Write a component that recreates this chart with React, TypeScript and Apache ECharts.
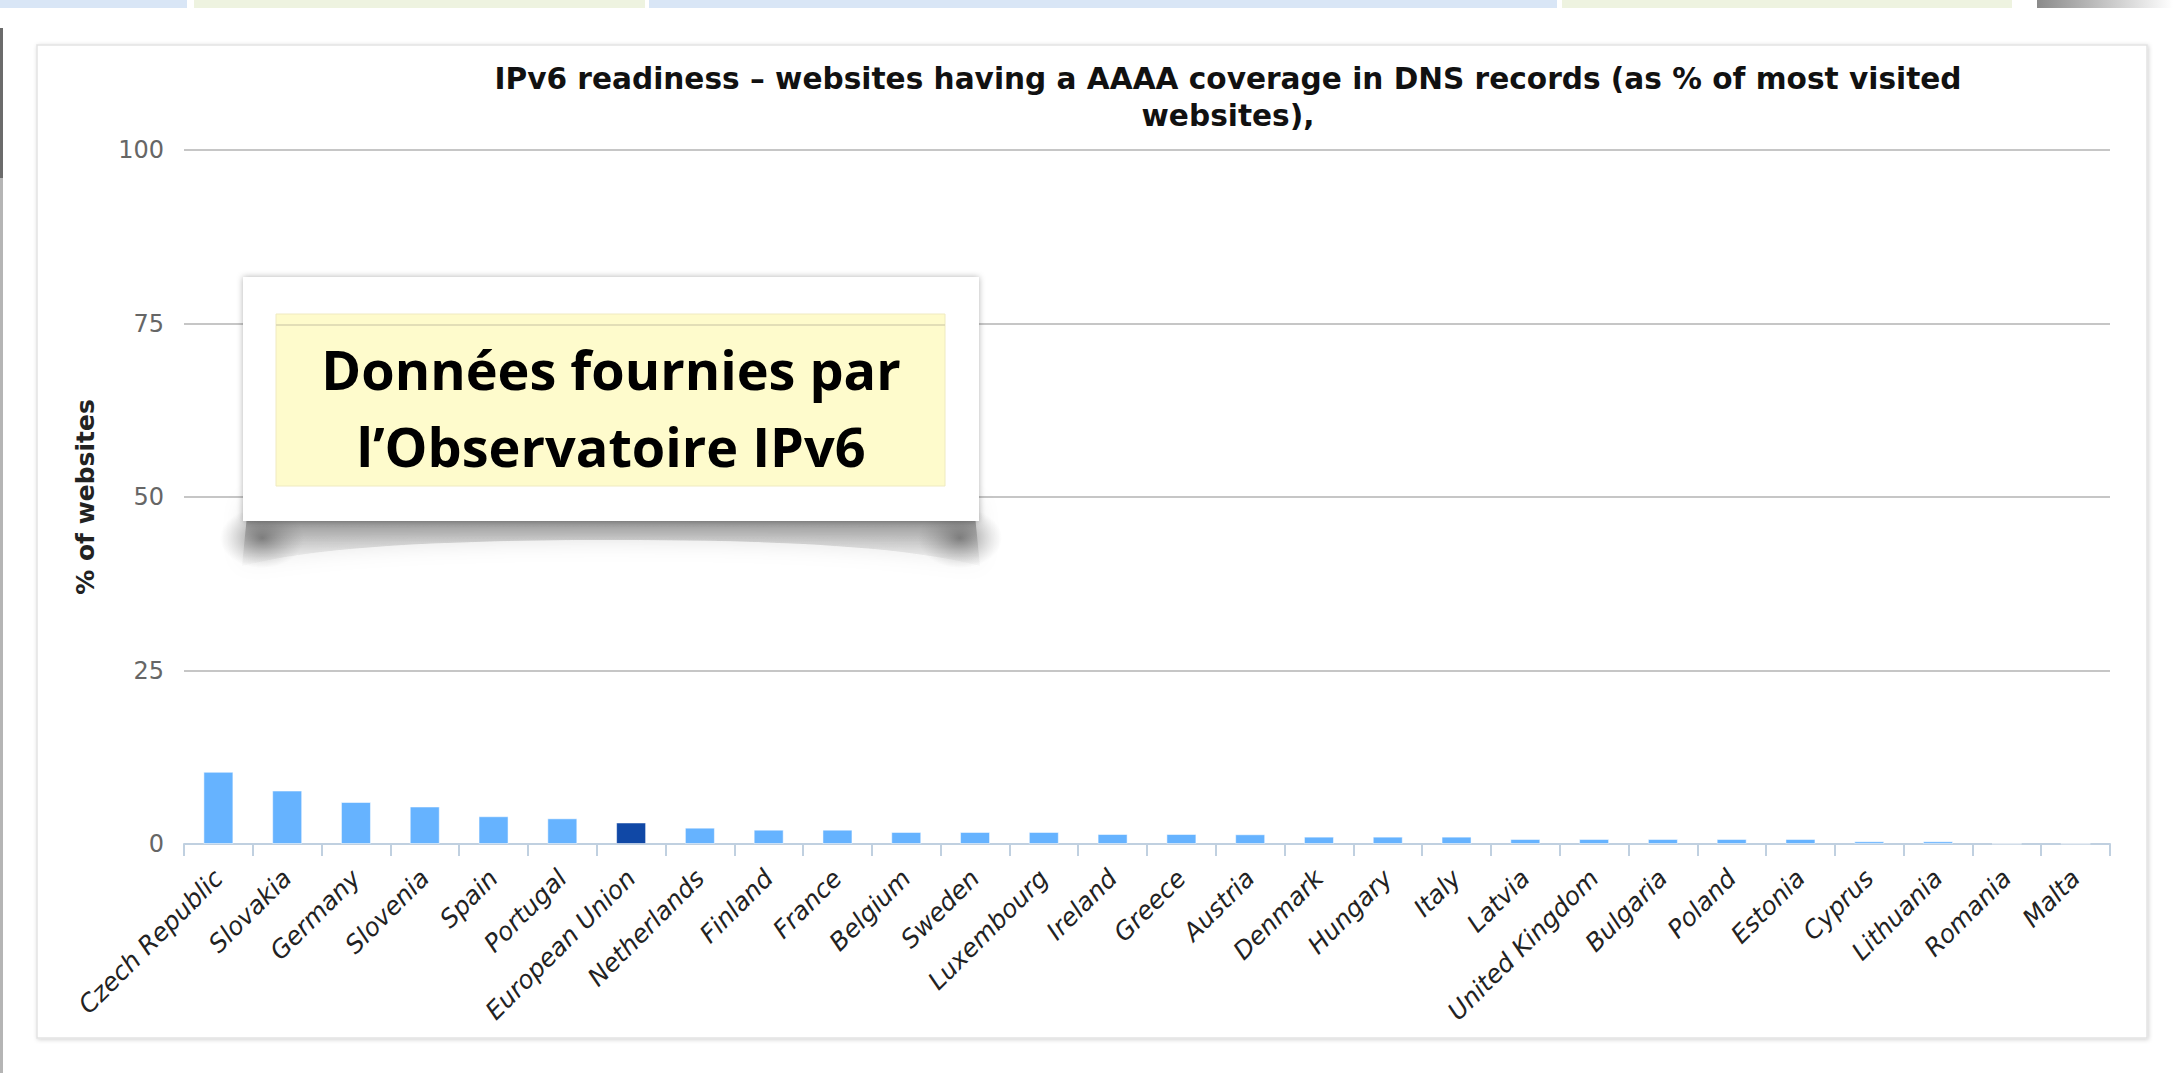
import React, { useEffect, useRef } from "react";
import * as echarts from "echarts";

const categories = [
  "Czech Republic", "Slovakia", "Germany", "Slovenia", "Spain", "Portugal",
  "European Union", "Netherlands", "Finland", "France", "Belgium", "Sweden",
  "Luxembourg", "Ireland", "Greece", "Austria", "Denmark", "Hungary", "Italy",
  "Latvia", "United Kingdom", "Bulgaria", "Poland", "Estonia", "Cyprus",
  "Lithuania", "Romania", "Malta",
];

const values = [
  10.4, 7.7, 6.05, 5.4, 4.0, 3.7,
  3.1, 2.35, 2.06, 2.06, 1.73, 1.73,
  1.73, 1.44, 1.44, 1.4, 1.06, 1.06, 1.06,
  0.72, 0.72, 0.72, 0.72, 0.72, 0.39,
  0.39, 0.05, 0.05,
];

const highlighted = ["European Union"];

const yTicks = { min: 0, max: 100, interval: 25 };

const titleLines = [
  "IPv6 readiness – websites having a AAAA coverage in DNS records (as % of most visited",
  "websites),",
];
const yAxisTitle = "% of websites";
const calloutLines = ["Données fournies par", "l’Observatoire IPv6"];

const CURL_D =
  "M 248 505 L 974 505 L 980 566 C 900 545 760 540 611 540 C 462 540 322 545 242 566 Z";

export default function App() {
  const ref = useRef<HTMLDivElement>(null);

  useEffect(() => {
    document.body.style.margin = "0";
    document.body.style.overflow = "hidden";
    const el = ref.current;
    if (!el) return;
    echarts.graphic.registerShape("curl", echarts.graphic.extendPath(CURL_D, {}));
    const chart = echarts.init(el, null, { renderer: "svg" });

    const font = "DejaVu Sans";

    const cornerBlob = (cx: number) => ({
      type: "ellipse",
      z: 90,
      shape: { cx, cy: 538, rx: 42, ry: 30 },
      style: {
        fill: new echarts.graphic.RadialGradient(0.5, 0.5, 0.5, [
          { offset: 0, color: "rgba(70,70,70,0.55)" },
          { offset: 1, color: "rgba(120,120,120,0)" },
        ]),
      },
    });

    const option: any = {
      animation: false,
      backgroundColor: "#ffffff",
      grid: { left: 184, right: 63, top: 150, bottom: 229, containLabel: false },
      xAxis: {
        type: "category",
        data: categories,
        boundaryGap: true,
        axisLine: { show: true, lineStyle: { color: "#c0d0e0", width: 2 } },
        axisTick: {
          show: true,
          alignWithLabel: false,
          interval: 0,
          length: 12,
          lineStyle: { color: "#c0d0e0", width: 2 },
        },
        axisLabel: {
          interval: 0,
          rotate: 45,
          margin: 30,
          color: "#222",
          fontSize: 25,
          fontStyle: "italic",
          fontFamily: font,
        },
        splitLine: { show: false },
      },
      yAxis: {
        type: "value",
        min: yTicks.min,
        max: yTicks.max,
        interval: yTicks.interval,
        name: yAxisTitle,
        nameLocation: "middle",
        nameRotate: 90,
        nameGap: 86,
        nameTextStyle: { color: "#222", fontSize: 25, fontWeight: "bold", fontFamily: font },
        axisLine: { show: false },
        axisTick: { show: false },
        axisLabel: { margin: 20, color: "#666", fontSize: 24, fontFamily: font },
        splitLine: { show: true, lineStyle: { color: "#c6c6c6", width: 2 } },
      },
      series: [
        {
          type: "bar",
          barWidth: 30,
          data: values.map((v, i) => ({
            value: v,
            itemStyle: {
              color: highlighted.includes(categories[i]) ? "#1048a6" : "#66b3ff",
            },
          })),
          itemStyle: { borderColor: "rgba(255,255,255,0.5)", borderWidth: 1 },
          z: 3,
        },
      ],
      graphic: [
        // top strip
        { type: "rect", z: -20, shape: { x: 0, y: 0, width: 187, height: 8 }, style: { fill: "#d9e6f6" } },
        { type: "rect", z: -20, shape: { x: 194, y: 0, width: 451, height: 8 }, style: { fill: "#eef3e0" } },
        { type: "rect", z: -20, shape: { x: 649, y: 0, width: 908, height: 8 }, style: { fill: "#d9e6f6" } },
        { type: "rect", z: -20, shape: { x: 1562, y: 0, width: 450, height: 8 }, style: { fill: "#eef3e0" } },
        {
          type: "rect",
          z: -20,
          shape: { x: 2037, y: 0, width: 136, height: 8 },
          style: {
            fill: new echarts.graphic.LinearGradient(0, 0, 1, 0, [
              { offset: 0, color: "#8a8a8a" },
              { offset: 1, color: "#ffffff" },
            ]),
          },
        },
        // left page edge
        { type: "rect", z: -20, shape: { x: 0, y: 28, width: 3, height: 1045 }, style: { fill: "#b5b5b5" } },
        { type: "rect", z: -19, shape: { x: 0, y: 28, width: 3, height: 150 }, style: { fill: "#6b6b6b" } },
        // card
        {
          type: "rect",
          z: -10,
          shape: { x: 37, y: 45, width: 2110, height: 993 },
          style: {
            fill: "#ffffff",
            stroke: "#e3e3e3",
            lineWidth: 1.5,
            shadowBlur: 4,
            shadowColor: "rgba(0,0,0,0.18)",
            shadowOffsetX: 1,
            shadowOffsetY: 1,
          },
        },
        // title
        {
          type: "text",
          z: 10,
          x: 1228,
          y: 79,
          style: {
            text: titleLines[0],
            align: "center",
            verticalAlign: "middle",
            fill: "#111",
            font: `bold 29.6px "${font}"`,
          },
        },
        {
          type: "text",
          z: 10,
          x: 1228,
          y: 116,
          style: {
            text: titleLines[1],
            align: "center",
            verticalAlign: "middle",
            fill: "#111",
            font: `bold 29.6px "${font}"`,
          },
        },
        // callout shadow curl
        {
          type: "curl",
          z: 90,
          x: 0,
          y: 0,
          style: {
            fill: new echarts.graphic.LinearGradient(0, 0, 0, 1, [
              { offset: 0, color: "rgba(60,60,60,0.7)" },
              { offset: 0.45, color: "rgba(100,100,100,0.4)" },
              { offset: 1, color: "rgba(160,160,160,0.05)" },
            ]),
            shadowBlur: 22,
            shadowColor: "rgba(0,0,0,0.3)",
          },
        },
        cornerBlob(262),
        cornerBlob(960),
        // callout white box
        {
          type: "rect",
          z: 91,
          shape: { x: 243, y: 277, width: 736, height: 244 },
          style: {
            fill: "#ffffff",
            shadowBlur: 6,
            shadowColor: "rgba(0,0,0,0.3)",
          },
        },
        // yellow note
        {
          type: "rect",
          z: 92,
          shape: { x: 276, y: 314, width: 669, height: 172 },
          style: { fill: "#fefbcc", stroke: "#efeac0", lineWidth: 1 },
        },
        {
          type: "line",
          z: 93,
          shape: { x1: 276, y1: 325, x2: 945, y2: 325 },
          style: { stroke: "#d9d5b0", lineWidth: 1.5 },
        },
        {
          type: "text",
          z: 94,
          x: 611,
          y: 369,
          style: {
            text: calloutLines[0],
            align: "center",
            verticalAlign: "middle",
            fill: "#000",
            font: 'bold 54px "Open Sans"',
          },
        },
        {
          type: "text",
          z: 94,
          x: 611,
          y: 446,
          style: {
            text: calloutLines[1],
            align: "center",
            verticalAlign: "middle",
            fill: "#000",
            font: 'bold 54px "Open Sans"',
          },
        },
      ],
    };

    chart.setOption(option);
    return () => {
      chart.dispose();
    };
  }, []);

  return <div ref={ref} style={{ width: 2173, height: 1073, background: "#fff" }} />;
}
